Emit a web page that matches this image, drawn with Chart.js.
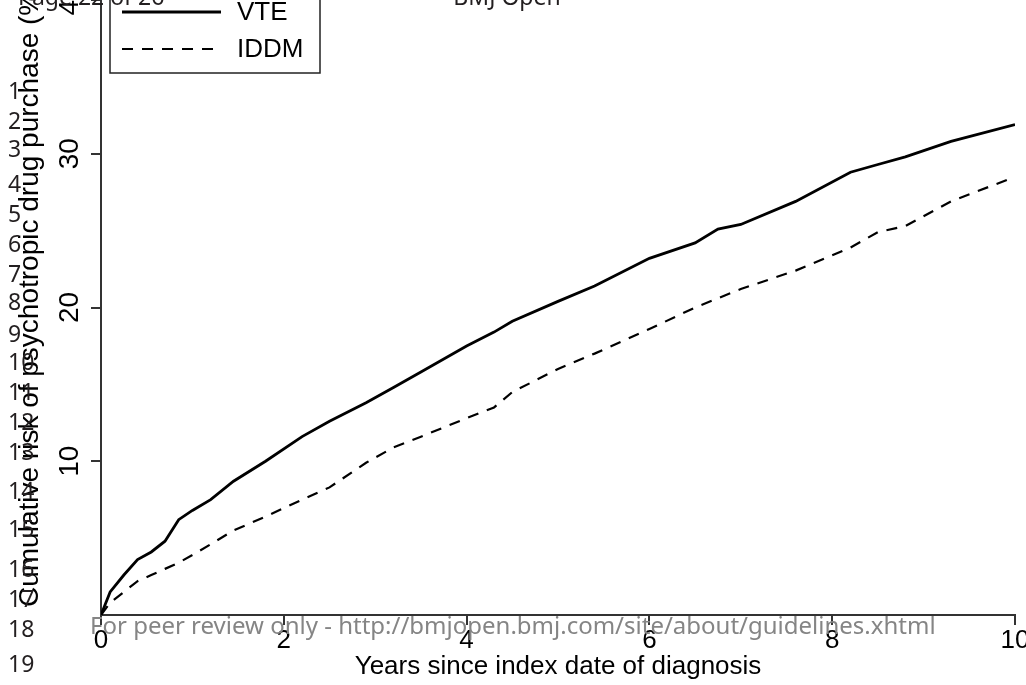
<!DOCTYPE html>
<html>
  <head>
    <script src="https://cdn.jsdelivr.net/npm/chart.js@4.4.0/dist/chart.umd.min.js"></script>
    <style>
      body {
        margin: 0;
        background-color: white;
      }
      canvas {
        display: block;
      }
    </style>
  </head>
  <body>
    <canvas id="riskChart" width="1026" height="685"></canvas>
  <script>
    // Years since index date (shared by both curves)
    let years = [0, 0.1, 0.25, 0.4, 0.55, 0.7, 0.85, 1.0, 1.2, 1.45, 1.8, 2.2, 2.5, 2.9, 3.2, 3.5,
                 4.0, 4.3, 4.5, 5.0, 5.4, 6.0, 6.5, 6.75, 7.0, 7.6, 8.2, 8.5, 8.8, 9.3, 10];
    // Cumulative risk (%)
    let vteRisk = [0, 1.5, 2.6, 3.6, 4.1, 4.8, 6.2, 6.8, 7.5, 8.7, 10.0, 11.6, 12.6, 13.8, 14.8, 15.8,
                   17.5, 18.4, 19.1, 20.4, 21.4, 23.2, 24.2, 25.1, 25.4, 26.9, 28.8, 29.3, 29.8, 30.8, 31.9];
    let iddmRisk = [0, 0.8, 1.5, 2.2, 2.6, 3.0, 3.4, 3.9, 4.6, 5.5, 6.4, 7.5, 8.3, 9.9, 10.9, 11.6,
                    12.8, 13.5, 14.5, 16.0, 17.0, 18.6, 20.0, 20.6, 21.2, 22.4, 23.9, 24.9, 25.3, 26.9, 28.5];
    let seriesNames = ["VTE", "IDDM"];
    let xTicks = [0, 2, 4, 6, 8, 10];
    let yTicks = [10, 20, 30, 40];

    let xTitle = "Years since index date of diagnosis";
    let yTitle = "Cumulative risk of psychotropic drug purchase (%)";
    let footer = "For peer review only - http://bmjopen.bmj.com/site/about/guidelines.xhtml";

    function toPoints(values) {
      return years.map(function (x, i) { return {x: x, y: values[i]}; });
    }

    // draws the rotated y labels, the boxed legend and the page clutter of the scan
    let overlay = {
      id: 'overlay',
      beforeDraw: function (chart) {
        let ctx = chart.ctx;
        ctx.save();
        ctx.fillStyle = 'white';
        ctx.fillRect(0, 0, chart.width, chart.height);
        ctx.restore();
      },
      afterDraw: function (chart) {
        let ctx = chart.ctx;
        let yScale = chart.scales.y;
        ctx.save();
        ctx.fillStyle = 'black';

        // y tick labels, rotated like R's default
        ctx.font = '28px "Liberation Sans"';
        ctx.textAlign = 'center';
        ctx.textBaseline = 'alphabetic';
        yTicks.forEach(function (v) {
          ctx.save();
          ctx.translate(78, yScale.getPixelForValue(v));
          ctx.rotate(-Math.PI / 2);
          ctx.fillText(String(v), 0, 0);
          ctx.restore();
        });

        // y axis title
        ctx.save();
        ctx.translate(38, 607);
        ctx.rotate(-Math.PI / 2);
        ctx.textAlign = 'left';
        ctx.fillText(yTitle, 0, 0);
        ctx.restore();

        // legend box
        ctx.strokeStyle = '#222';
        ctx.lineWidth = 1.5;
        ctx.strokeRect(110, -5, 210, 78);
        ctx.font = '26px "Liberation Sans"';
        ctx.textAlign = 'left';
        ctx.textBaseline = 'middle';
        chart.data.datasets.forEach(function (ds, i) {
          let y = 12 + i * 37;
          ctx.beginPath();
          ctx.setLineDash(ds.borderDash || []);
          ctx.lineWidth = ds.borderWidth;
          ctx.strokeStyle = ds.borderColor;
          ctx.moveTo(122, y);
          ctx.lineTo(221, y);
          ctx.stroke();
          ctx.fillText(ds.label, 237, y + 1);
        });
        ctx.setLineDash([]);

        // page header and line numbers of the manuscript
        ctx.font = '23px "Noto Sans"';
        ctx.textBaseline = 'alphabetic';
        ctx.fillStyle = '#231f20';
        ctx.fillText('Page 22 of 26', 18, 5);
        ctx.textAlign = 'center';
        ctx.fillText('BMJ Open', 507, 5);
        ctx.textAlign = 'left';
        ctx.textBaseline = 'middle';
        let lineY = [92, 122, 150, 185, 215, 245, 275, 303, 335, 363, 393, 423, 453, 492, 530, 570, 600, 630, 665];
        lineY.forEach(function (y, i) {
          ctx.fillText(String(i + 1), 8, y);
        });

        // footer watermark
        ctx.fillStyle = '#858585';
        ctx.textBaseline = 'alphabetic';
        ctx.font = '24px "Noto Sans"';
        ctx.fillText(footer, 90, 634);
        ctx.restore();
      }
    };

    let ctx = document.getElementById('riskChart').getContext('2d');
    let riskChart = new Chart(ctx, {
      type: 'line',
      data: {
        datasets: [
          {
            label: seriesNames[0],
            data: toPoints(vteRisk),
            borderColor: '#000',
            borderWidth: 2.8,
            pointRadius: 0,
            tension: 0,
            fill: false
          },
          {
            label: seriesNames[1],
            data: toPoints(iddmRisk),
            borderColor: '#000',
            borderWidth: 2.2,
            borderDash: [11, 9],
            pointRadius: 0,
            tension: 0,
            fill: false
          }
        ]
      },
      options: {
        responsive: false,
        animation: false,
        layout: { padding: { left: 0, right: 11, top: 0, bottom: 0 } },
        plugins: {
          legend: { display: false },
          tooltip: { enabled: false }
        },
        scales: {
          x: {
            type: 'linear',
            min: 0,
            max: 10,
            afterBuildTicks: function (scale) {
              scale.ticks = xTicks.map(function (v) { return {value: v}; });
            },
            afterFit: function (scale) {
              scale.height = 70;
              scale.paddingLeft = 0;
              scale.paddingRight = 0;
            },
            border: { display: true, color: '#333', width: 2 },
            grid: { drawOnChartArea: false, drawTicks: true, tickLength: 10, color: '#333', lineWidth: 2 },
            ticks: {
              color: '#000',
              padding: 0,
              maxRotation: 0,
              font: { family: 'Liberation Sans', size: 26 }
            },
            title: {
              display: true,
              text: xTitle,
              color: '#000',
              padding: { top: 0, bottom: 3 },
              font: { family: 'Liberation Sans', size: 26 }
            }
          },
          y: {
            min: 0,
            max: 40,
            afterBuildTicks: function (scale) {
              scale.ticks = yTicks.map(function (v) { return {value: v}; });
            },
            afterFit: function (scale) {
              scale.width = 101;
              scale.paddingTop = 0;
              scale.paddingBottom = 0;
            },
            border: { display: true, color: '#333', width: 2 },
            grid: { drawOnChartArea: false, drawTicks: true, tickLength: 10, color: '#333', lineWidth: 2 },
            ticks: { display: false }
          }
        }
      },
      plugins: [overlay]
    });
  </script>
  </body>
</html>
